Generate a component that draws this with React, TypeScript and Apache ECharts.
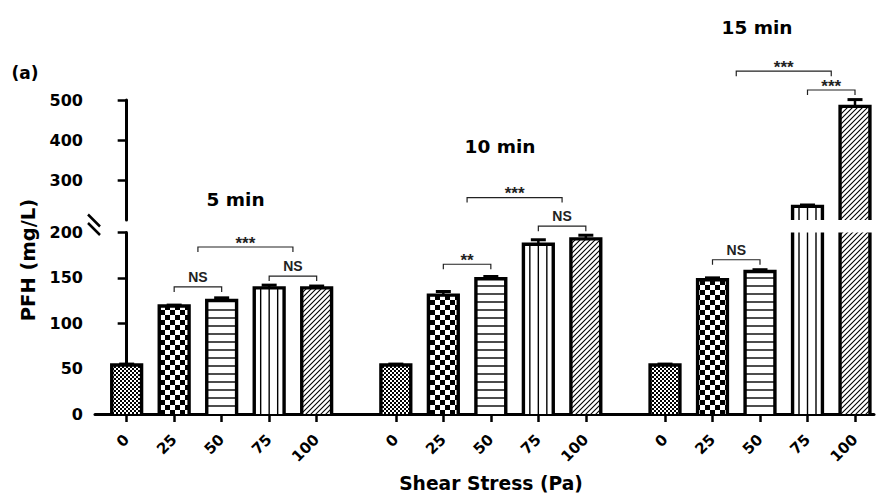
import React, { useEffect, useRef } from 'react';
import * as echarts from 'echarts';

// ---------------- data ----------------
const GROUP_TITLES = ['5 min', '10 min', '15 min'];
const STRESS_LABELS = ['0', '25', '50', '75', '100'];
const PFH_5 = [54, 119, 125, 139, 139];
const PFH_10 = [54, 131, 149, 187, 193];
const PFH_15 = [54, 148, 157, 234, 484];
const SEM_5 = [1, 1, 3, 3, 2];
const SEM_10 = [1, 4, 2.5, 5, 4];
const SEM_15 = [1, 2, 2, 3.5, 17];
const Y_LOWER_MIN = 0;
const Y_BREAK = 200;
const Y_MAX = 500;
const Y_LOWER_STEP = 50;
const Y_UPPER_TICKS = [300, 400, 500];
// significance brackets: [group, fromBar, toBar, level, label]
const SIG_LOWER: [number, number, number, number, string][] = [
  [0, 1, 2, 140, 'NS'],
  [0, 1.5, 3.5, 184, '***'],
  [0, 3, 4, 152, 'NS'],
  [1, 1, 2, 165, '**'],
  [1, 3, 4, 207, 'NS'],
  [2, 1, 2, 170, 'NS'],
];
const SIG_UPPER: [number, number, number, number, string][] = [
  [1, 1.5, 3.5, 256, '***'],
  [2, 1.5, 3.5, 572, '***'],
  [2, 3, 4, 525, '***'],
];

const GROUP_STEP = 5 + 2 / 3;
const FONT = 'DejaVu Sans';
const BAR_FRAC = 0.7;
const BORDER = 3.4;

const App: React.FC = () => {
  const ref = useRef<HTMLDivElement>(null);

  useEffect(() => {
    if (!ref.current) return;
    const chart = echarts.init(ref.current, null, { renderer: 'svg' });

    const values = [PFH_5, PFH_10, PFH_15];
    const sems = [SEM_5, SEM_10, SEM_15];
    const pos = (g: number, i: number) => g * GROUP_STEP + i;
    const POSITIONS: number[] = [];
    const barData: number[][] = [];
    values.forEach((vals, g) =>
      vals.forEach((v, i) => {
        POSITIONS.push(pos(g, i));
        barData.push([pos(g, i), v, sems[g][i], i]);
      })
    );
    const xMin = -2 / 3;
    const xMax = pos(2, 4) + 0.4;

    const makeCanvas = (w: number, h: number, draw: (c: CanvasRenderingContext2D) => void) => {
      const c = document.createElement('canvas');
      c.width = w;
      c.height = h;
      const ctx = c.getContext('2d')!;
      ctx.fillStyle = '#fff';
      ctx.fillRect(0, 0, w, h);
      draw(ctx);
      return c;
    };
    const fine = makeCanvas(4, 4, (ctx) => {
      ctx.fillStyle = '#000';
      ctx.fillRect(0, 0, 2, 2);
      ctx.fillRect(2, 2, 2, 2);
    });
    const check = makeCanvas(10, 10, (ctx) => {
      ctx.fillStyle = '#000';
      ctx.fillRect(0, 0, 5, 5);
      ctx.fillRect(5, 5, 5, 5);
    });
    const hatch = makeCanvas(5, 5, (ctx) => {
      ctx.strokeStyle = '#000';
      ctx.lineWidth = 1.1;
      ctx.beginPath();
      ctx.moveTo(-1, 6);
      ctx.lineTo(6, -1);
      ctx.moveTo(-1, 1);
      ctx.lineTo(1, -1);
      ctx.moveTo(4, 6);
      ctx.lineTo(6, 4);
      ctx.stroke();
    });
    const pat = (c: HTMLCanvasElement) => ({ image: c, repeat: 'repeat', imageWidth: c.width, imageHeight: c.height });
    const fills: any[] = [pat(fine), pat(check), '#fff', '#fff', pat(hatch)];

    const barRender = (lo: number, hi: number) => (params: any, api: any) => {
      const x = api.value(0);
      const v = api.value(1);
      const e = api.value(2);
      const p = api.value(3);
      if (v <= lo) return null;
      const top = Math.min(v, hi);
      const [cx, yTop] = api.coord([x, top]);
      const yBase = api.coord([x, lo])[1];
      const unit = api.size([1, 0])[0];
      const half = (unit * BAR_FRAC) / 2 - BORDER / 2;
      const L = cx - half;
      const R = cx + half;
      const children: any[] = [];
      children.push({
        type: 'rect',
        shape: { x: L, y: yTop, width: R - L, height: yBase - yTop },
        style: { fill: fills[p], stroke: null },
      });
      if (p === 2) {
        for (let y = yBase - 8; y > yTop + 3; y -= 8) {
          children.push({
            type: 'line',
            shape: { x1: L, y1: y, x2: R, y2: y },
            style: { stroke: '#000', lineWidth: 1.4 },
          });
        }
      }
      if (p === 3) {
        [-8.5, 0, 8.5].forEach((dx) =>
          children.push({
            type: 'line',
            shape: { x1: cx + dx, y1: yTop, x2: cx + dx, y2: yBase },
            style: { stroke: '#000', lineWidth: 1.4 },
          })
        );
      }
      const capped = v <= hi;
      if (capped) {
        children.push({
          type: 'polyline',
          shape: { points: [[L, yBase], [L, yTop], [R, yTop], [R, yBase]] },
          style: { stroke: '#000', lineWidth: BORDER, fill: null, lineJoin: 'miter' },
        });
        const yErr = api.coord([x, v + e])[1];
        children.push({
          type: 'line',
          shape: { x1: cx, y1: yTop, x2: cx, y2: yErr },
          style: { stroke: '#000', lineWidth: 2.5 },
        });
        children.push({
          type: 'line',
          shape: { x1: cx - 7.5, y1: yErr, x2: cx + 7.5, y2: yErr },
          style: { stroke: '#000', lineWidth: 3 },
        });
      } else {
        [L, R].forEach((xx) =>
          children.push({
            type: 'line',
            shape: { x1: xx, y1: yBase, x2: xx, y2: yTop },
            style: { stroke: '#000', lineWidth: BORDER },
          })
        );
      }
      return { type: 'group', children };
    };

    const bracketData = (list: typeof SIG_LOWER) =>
      list.map(([g, a, b, lvl]) => [pos(g, a), pos(g, b), lvl]);
    const bracketRender = (list: typeof SIG_LOWER) => (params: any, api: any) => {
      const label = list[params.dataIndex][4];
      const [x1, y] = api.coord([api.value(0), api.value(2)]);
      const x2 = api.coord([api.value(1), api.value(2)])[0];
      const star = label.indexOf('*') >= 0;
      return {
        type: 'group',
        children: [
          {
            type: 'polyline',
            shape: { points: [[x1, y + 5], [x1, y], [x2, y], [x2, y + 5]] },
            style: { stroke: '#222', lineWidth: 1.2, fill: null },
          },
          {
            type: 'text',
            x: (x1 + x2) / 2,
            y: star ? y - 4 : y - 10,
            style: {
              text: label,
              fill: '#222',
              fontFamily: 'Liberation Sans',
              fontWeight: 'bold',
              fontSize: star ? 17 : 14,
              align: 'center',
              verticalAlign: 'middle',
            },
          },
        ],
      };
    };

    const axisLabelStyle = { color: '#000', fontFamily: FONT, fontWeight: 'bold' as const };

    const titleStyle = (text: string, size: number) => ({
      text,
      fill: '#000',
      fontFamily: FONT,
      fontWeight: 'bold',
      fontSize: size,
      align: 'center',
      verticalAlign: 'middle',
    });

    chart.setOption({
      animation: false,
      backgroundColor: '#fff',
      grid: [
        { left: 95, right: 5, top: 232.5, height: 181.5, outerBoundsMode: 'none' },
        { left: 95, right: 5, top: 100, height: 120, outerBoundsMode: 'none' },
      ],
      xAxis: [
        {
          type: 'value',
          gridIndex: 0,
          min: xMin,
          max: xMax,
          splitLine: { show: false },
          axisLine: { show: true, lineStyle: { color: '#000', width: 3 } },
          axisTick: { show: true, customValues: POSITIONS, length: 8, lineStyle: { color: '#000', width: 2.5 } },
          axisLabel: {
            ...axisLabelStyle,
            fontSize: 15,
            rotate: 45,
            margin: 23,
            customValues: POSITIONS,
            formatter: (val: number) => {
              const k = POSITIONS.findIndex((q) => Math.abs(q - val) < 1e-6);
              return k >= 0 ? STRESS_LABELS[k % 5] : '';
            },
          },
        },
        {
          type: 'value',
          gridIndex: 1,
          min: xMin,
          max: xMax,
          show: false,
          splitLine: { show: false },
        },
      ],
      yAxis: [
        {
          type: 'value',
          gridIndex: 0,
          min: Y_LOWER_MIN,
          max: Y_BREAK,
          interval: Y_LOWER_STEP,
          splitLine: { show: false },
          axisLine: { show: true, lineStyle: { color: '#000', width: 3 } },
          axisTick: { show: true, length: 9, lineStyle: { color: '#000', width: 2.5 } },
          axisLabel: { ...axisLabelStyle, fontSize: 16, margin: 12 },
        },
        {
          type: 'value',
          gridIndex: 1,
          min: Y_BREAK,
          max: Y_MAX,
          interval: 100,
          splitLine: { show: false },
          axisLine: { show: true, lineStyle: { color: '#000', width: 3 } },
          axisTick: { show: true, length: 9, customValues: Y_UPPER_TICKS, lineStyle: { color: '#000', width: 2.5 } },
          axisLabel: { ...axisLabelStyle, fontSize: 16, margin: 12, customValues: Y_UPPER_TICKS },
        },
      ],
      graphic: [
        { type: 'text', x: 25, y: 72.5, style: titleStyle('(a)', 17) },
        { type: 'text', x: 235.5, y: 199, style: titleStyle(GROUP_TITLES[0], 18.5) },
        { type: 'text', x: 500, y: 146.5, style: titleStyle(GROUP_TITLES[1], 18.5) },
        { type: 'text', x: 757, y: 27, style: titleStyle(GROUP_TITLES[2], 18.5) },
        { type: 'text', x: 491, y: 483, style: titleStyle('Shear Stress (Pa)', 18.7) },
        { type: 'text', x: 28, y: 260, rotation: Math.PI / 2, style: titleStyle('PFH (mg/L)', 19.5) },
        { type: 'line', shape: { x1: 88, y1: 214.5, x2: 100, y2: 226.5 }, style: { stroke: '#000', lineWidth: 2.5 } },
        { type: 'line', shape: { x1: 88, y1: 223, x2: 100, y2: 235 }, style: { stroke: '#000', lineWidth: 2.5 } },
      ],
      series: [
        {
          type: 'custom',
          xAxisIndex: 0,
          yAxisIndex: 0,
          clip: false,
          encode: { x: 0, y: 1 },
          data: barData,
          renderItem: barRender(Y_LOWER_MIN, Y_BREAK),
        },
        {
          type: 'custom',
          xAxisIndex: 1,
          yAxisIndex: 1,
          clip: false,
          encode: { x: 0, y: 1 },
          data: barData,
          renderItem: barRender(Y_BREAK, Y_MAX),
        },
        {
          type: 'custom',
          xAxisIndex: 0,
          yAxisIndex: 0,
          clip: false,
          encode: { x: [0, 1], y: 2 },
          data: bracketData(SIG_LOWER),
          renderItem: bracketRender(SIG_LOWER),
          z: 5,
        },
        {
          type: 'custom',
          xAxisIndex: 1,
          yAxisIndex: 1,
          clip: false,
          encode: { x: [0, 1], y: 2 },
          data: bracketData(SIG_UPPER),
          renderItem: bracketRender(SIG_UPPER),
          z: 5,
        },
      ],
    });

    return () => chart.dispose();
  }, []);

  return (
    <div
      ref={ref}
      style={{ position: 'fixed', left: 0, top: 0, width: 879, height: 495, background: '#fff' }}
    />
  );
};

export default App;
